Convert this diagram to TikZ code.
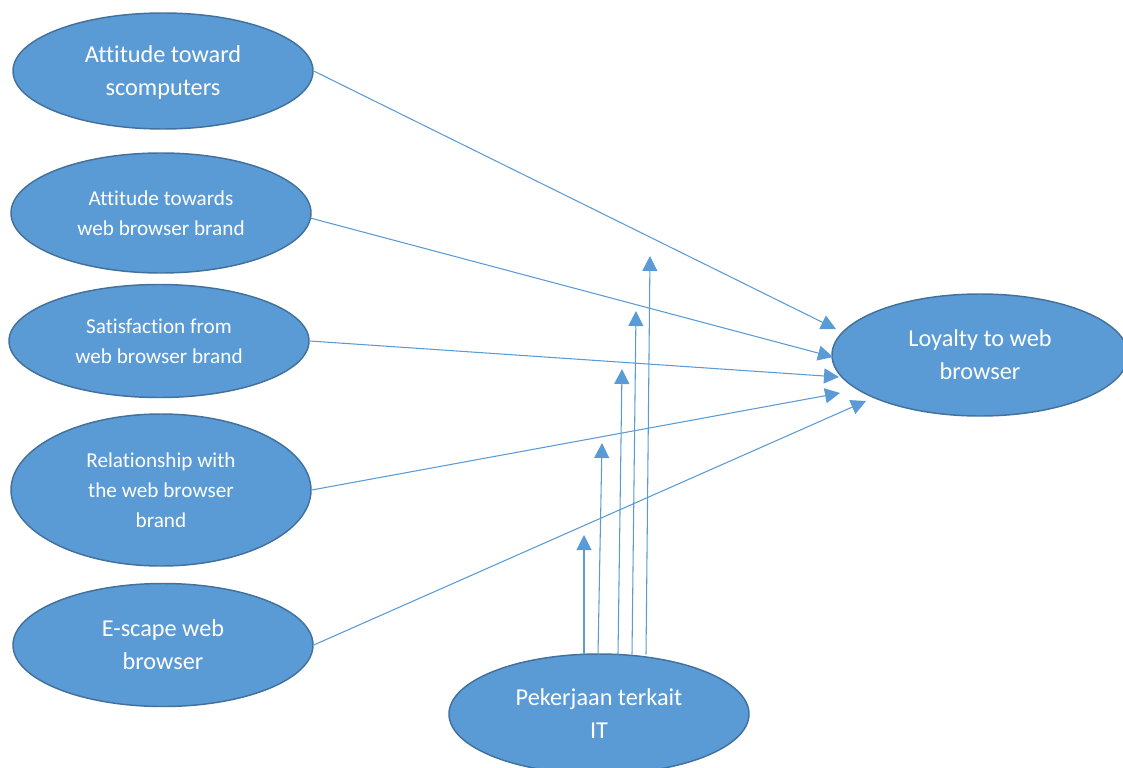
\documentclass[tikz,border=0pt]{standalone}
\usepackage{fontspec}
\setmainfont{Carlito}[Ligatures=NoCommon]
\definecolor{ovfill}{RGB}{91,155,213}
\definecolor{ovline}{RGB}{65,113,156}
\usetikzlibrary{arrows.meta,shapes.geometric,calc}

\begin{document}
\begin{tikzpicture}[x=0.75pt,y=-0.75pt,
  oval/.style={ellipse,draw=ovline,line width=1.1pt,fill=ovfill,text=white,
    inner sep=0pt,align=center,minimum width=225pt,minimum height=90pt},
  big/.style={font=\fontsize{18.2}{24.75}\selectfont},
  small/.style={font=\fontsize{15.9}{22.5}\selectfont},
  link/.style={draw=ovfill,line width=0.8pt,-{Triangle[length=11.25pt,width=11.25pt]}}]
\useasboundingbox (0,0) rectangle (1123,767);
\clip (0,0) rectangle (1123,767);

% predictors on the left
\node[oval,big,text depth=0pt,minimum height=87pt] (att1) at (163,71) {Attitude toward\\scomputers};
\node[oval,small,minimum height=90pt] (att2) at (161,213) {Attitude towards\\web browser brand};
\node[oval,small,minimum height=84.75pt] (sat) at (159,341) {Satisfaction from\\web browser brand};
\node[oval,small,minimum height=114pt] (rel) at (161,490) {Relationship with\\the web browser\\brand};
\node[oval,big,minimum height=92.25pt] (esc) at (163,645) {E-scape web\\browser};

% outcome and moderator
\node[oval,big,minimum width=222pt,minimum height=91.5pt] (loy) at (980,355) {Loyalty to web\\browser};
\node[oval,big,minimum height=90pt] (job) at (599,714) {Pekerjaan terkait\\IT};

\coordinate (l1) at (836,329);
\coordinate (l2) at (833,357);
\coordinate (l3) at (839,377);
\coordinate (l4) at (840,393);
\coordinate (l5) at (866,401);

\draw[link] (att1.east) -- (l1);
\draw[link] (att2.-2) -- (l2);
\draw[link] (sat.east) -- (l3);
\draw[link] (rel.east) -- (l4);
\draw[link] (esc.east) -- (l5);

\coordinate (t1) at (584,535);
\coordinate (t2) at (602,443);
\coordinate (t3) at (622,369);
\coordinate (t4) at (636,311);
\coordinate (t5) at (650,256);

\foreach \dx/\t in {-15/t1,-1/t2,19/t3,33/t4,47/t5}
  \draw[link] ($(job.north)+(\dx,1)$) -- (\t);
\end{tikzpicture}
\end{document}
